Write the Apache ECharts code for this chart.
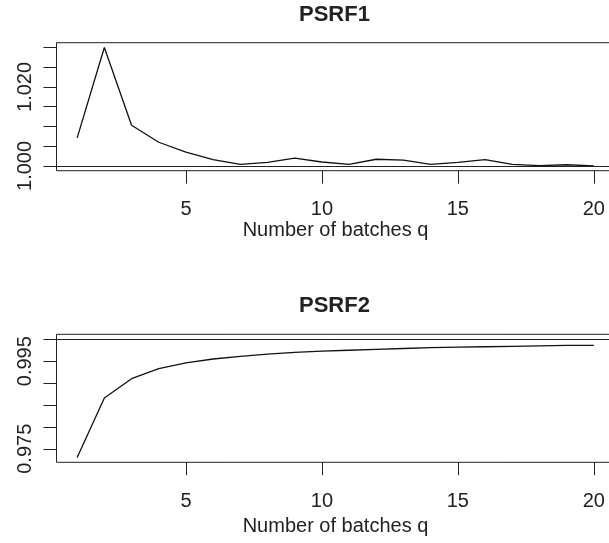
<!DOCTYPE html>
<html>
<head>
<meta charset="utf-8">
<script src="https://cdn.jsdelivr.net/npm/echarts@6/dist/echarts.min.js"></script>
<style>
html,body{margin:0;padding:0;background:#fff;}
#c{width:609px;height:543px;}
</style>
</head>
<body>
<div id="c"></div>
<script>
// Data
const batches = [1,2,3,4,5,6,7,8,9,10,11,12,13,14,15,16,17,18,19,20];
const psrf1 = [1.0071,1.0300,1.0103,1.0060,1.0035,1.0016,1.0004,1.0009,1.0020,1.0010,1.0004,1.0017,1.0015,1.0004,1.0009,1.0016,1.0004,1.0001,1.0003,1.0000];
const psrf2 = [0.9730,0.9866,0.9910,0.9933,0.9946,0.9955,0.9961,0.9966,0.9970,0.9973,0.9975,0.9977,0.9979,0.9981,0.9982,0.9983,0.9984,0.9985,0.9986,0.9986];
const xTicks = [5,10,15,20];
const y1Ticks = [1.000,1.005,1.010,1.015,1.020,1.025,1.030];
const y1Labels = [1.000,1.020];
const y2Ticks = [0.975,0.980,0.985,0.990,0.995,1.000];
const y2Labels = [0.975,0.995];
const refLine = 1.0;
const titles = ['PSRF1','PSRF2'];
const xName = 'Number of batches q';

const FONT = '"Liberation Sans", Arial, Helvetica, sans-serif';
const INK = '#222';

function xAxisCfg(gi){
  return {
    type:'value', gridIndex:gi, min:0.24, max:20.76,
    axisLine:{show:false},
    axisTick:{show:true, length:13, customValues:xTicks, lineStyle:{color:INK,width:1}},
    axisLabel:{customValues:xTicks, fontSize:20, color:INK, fontFamily:FONT, margin:29},
    splitLine:{show:false},
    name:xName, nameLocation:'middle', nameGap: gi===0 ? 50 : 54,
    nameTextStyle:{fontSize:20, color:INK, fontFamily:FONT}
  };
}
function yAxisCfg(gi, mn, mx, ticks, labels){
  return {
    type:'value', gridIndex:gi, min:mn, max:mx,
    axisLine:{show:false},
    axisTick:{show:true, length:13, customValues:ticks, lineStyle:{color:INK,width:1}},
    axisLabel:{customValues:labels, rotate:90, fontSize:20, color:INK, fontFamily:FONT, margin:21,
      formatter:v=>Number(v).toFixed(3)},
    splitLine:{show:false}
  };
}
function lineSeries(gi, vals){
  return {
    type:'line', xAxisIndex:gi, yAxisIndex:gi,
    data: batches.map((b,i)=>[b, vals[i]]),
    showSymbol:false, symbol:'none', silent:true, animation:false,
    lineStyle:{color:'#111', width:1.3},
    markLine:{silent:true, symbol:'none', label:{show:false}, animation:false,
      lineStyle:{color:INK, width:1, type:'solid'}, data:[{yAxis:refLine}]}
  };
}

const chart = echarts.init(document.getElementById('c'), null, {renderer:'canvas'});
chart.setOption({
  backgroundColor:'#fff',
  animation:false,
  title:[
    {text:titles[0], left:294, top:-1, textStyle:{fontSize:22, fontWeight:'bold', color:INK, fontFamily:FONT}},
    {text:titles[1], left:294, top:290, textStyle:{fontSize:22, fontWeight:'bold', color:INK, fontFamily:FONT}}
  ],
  grid:[
    {left:56.5, top:42.7, width:558, height:128, show:true, borderColor:INK, borderWidth:1, backgroundColor:'transparent', outerBoundsMode:'none', containLabel:false},
    {left:56.5, top:334.3, width:558, height:128, show:true, borderColor:INK, borderWidth:1, backgroundColor:'transparent', outerBoundsMode:'none', containLabel:false}
  ],
  xAxis:[xAxisCfg(0), xAxisCfg(1)],
  yAxis:[
    yAxisCfg(0, 0.9988, 1.0312, y1Ticks, y1Labels),
    yAxisCfg(1, 0.97191, 1.00114, y2Ticks, y2Labels)
  ],
  series:[lineSeries(0, psrf1), lineSeries(1, psrf2)]
});
</script>
</body>
</html>
